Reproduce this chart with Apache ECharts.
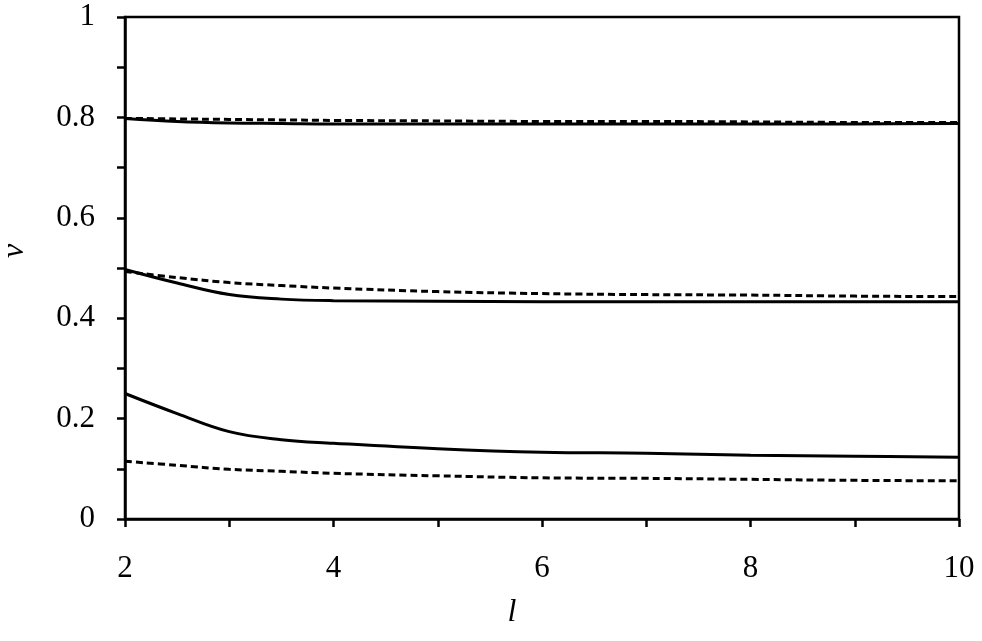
<!DOCTYPE html>
<html>
<head>
<meta charset="utf-8">
<script src="https://cdn.jsdelivr.net/npm/echarts@6/dist/echarts.min.js"></script>
<style>
  html, body { margin: 0; padding: 0; background: #fff; }
  #chart { width: 982px; height: 641px; }
</style>
</head>
<body>
<div id="chart"></div>
<script>
const lValues = [2, 2.5, 3, 3.5, 4, 5, 6, 7, 8, 9, 10]

// solid curves
const topSolid = [0.798, 0.792, 0.789, 0.788, 0.787, 0.787, 0.787, 0.787, 0.787, 0.787, 0.788]
const midSolid = [0.497, 0.470, 0.447, 0.438, 0.435, 0.434, 0.433, 0.433, 0.433, 0.433, 0.433]
const lowSolid = [0.250, 0.210, 0.174, 0.158, 0.151, 0.140, 0.133, 0.131, 0.127, 0.125, 0.123]

// dashed curves
const topDashed = [0.798, 0.797, 0.796, 0.795, 0.794, 0.793, 0.792, 0.792, 0.791, 0.790, 0.790]
const midDashed = [0.493, 0.481, 0.471, 0.465, 0.460, 0.453, 0.449, 0.447, 0.446, 0.444, 0.443]
const lowDashed = [0.115, 0.107, 0.099, 0.095, 0.091, 0.086, 0.082, 0.081, 0.079, 0.077, 0.076]

const xLabels = ['2', '4', '6', '8', '10']
const yLabels = ['0', '0.2', '0.4', '0.6', '0.8', '1']

const font = 'Liberation Serif'

const pairs = vals => lValues.map((l, i) => [l, vals[i]])

const curve = (vals, dashed) => ({
  type: 'line',
  data: pairs(vals),
  smooth: 0.4,
  showSymbol: false,
  silent: true,
  lineStyle: {
    color: '#000',
    width: dashed ? 3 : 3,
    type: dashed ? [7, 4] : 'solid'
  }
})

const chart = echarts.init(document.getElementById('chart'))

chart.setOption({
  animation: false,
  backgroundColor: '#fff',
  grid: {
    left: 125,
    right: 23,
    top: 17,
    bottom: 122,
    outerBoundsMode: 'none',
    containLabel: false,
    show: true,
    borderColor: '#000',
    borderWidth: 2.5,
    backgroundColor: 'transparent'
  },
  xAxis: {
    type: 'value',
    min: 2,
    max: 10,
    interval: 1,
    name: 'l',
    nameLocation: 'middle',
    nameGap: 78,
    nameTextStyle: {
      fontFamily: font,
      fontStyle: 'italic',
      fontSize: 32,
      color: '#000',
      padding: [0, 60, 0, 0]
    },
    axisLine: { lineStyle: { color: '#000', width: 2.5 } },
    axisTick: { inside: false, length: 8, lineStyle: { color: '#000', width: 2.5 } },
    splitLine: { show: false },
    axisLabel: {
      margin: 34,
      fontFamily: font,
      fontSize: 31,
      color: '#000',
      formatter: v => (xLabels.indexOf(String(v)) >= 0 ? String(v) : '')
    }
  },
  yAxis: {
    type: 'value',
    min: 0,
    max: 1,
    interval: 0.1,
    name: 'ν',
    nameLocation: 'middle',
    nameRotate: 90,
    nameGap: 94,
    nameTextStyle: {
      fontFamily: font,
      fontStyle: 'italic',
      fontSize: 32,
      color: '#000',
      padding: [0, 0, 0, 34]
    },
    axisLine: { show: true, lineStyle: { color: '#000', width: 2.5 } },
    axisTick: { show: true, inside: false, length: 8, lineStyle: { color: '#000', width: 2.5 } },
    splitLine: { show: false },
    axisLabel: {
      margin: 30,
      fontFamily: font,
      fontSize: 31,
      color: '#000',
      formatter: v => {
        const s = String(Math.round(v * 10) / 10)
        return yLabels.indexOf(s) >= 0 ? s : ''
      }
    }
  },
  series: [
    curve(topSolid, false),
    curve(midSolid, false),
    curve(lowSolid, false),
    curve(topDashed, true),
    curve(midDashed, true),
    curve(lowDashed, true)
  ]
})
</script>
</body>
</html>
